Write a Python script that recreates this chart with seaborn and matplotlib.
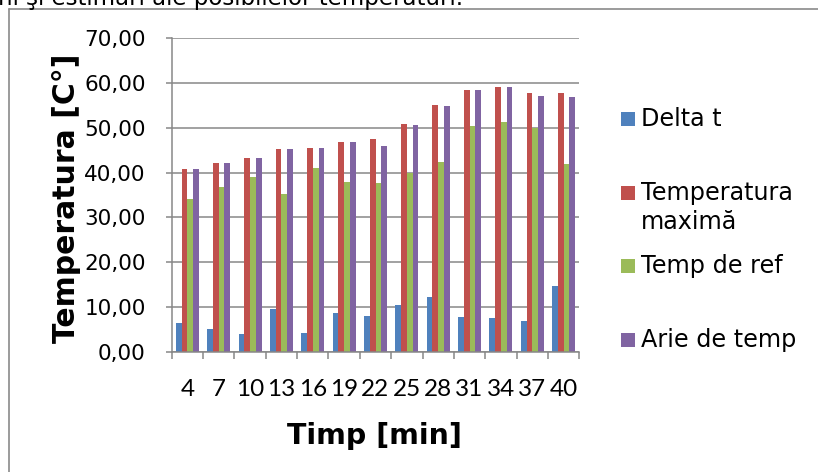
import matplotlib
matplotlib.use("Agg")
import matplotlib.pyplot as plt
from matplotlib.lines import Line2D
from matplotlib.patches import Rectangle
from matplotlib.ticker import FixedLocator, FuncFormatter
import numpy as np
import pandas as pd
import seaborn as sns

# Measurement times (minutes)
times = [4, 7, 10, 13, 16, 19, 22, 25, 28, 31, 34, 37, 40]

# Series values (°C)
delta_t = [6.45, 5.26, 4.15, 9.70, 4.20, 8.70, 8.07, 10.60, 12.20, 7.85, 7.70, 6.90, 14.75]
temp_max = [40.7, 42.1, 43.2, 45.2, 45.5, 46.7, 47.4, 50.7, 55.0, 58.3, 59.0, 57.7, 57.7]
temp_ref = [34.1, 36.8, 38.9, 35.3, 41.0, 37.9, 37.6, 40.0, 42.4, 50.3, 51.2, 50.0, 41.8]
arie_temp = [40.7, 42.1, 43.2, 45.2, 45.5, 46.7, 45.8, 50.6, 54.7, 58.3, 59.0, 57.0, 56.7]

series_names = ["Delta t", "Temperatura maximă", "Temp de ref", "Arie de temp"]
series_values = [delta_t, temp_max, temp_ref, arie_temp]
colors = ["#4F81BD", "#C0504D", "#9BBB59", "#8064A2"]

y_ticks = [0, 10, 20, 30, 40, 50, 60, 70]

df = pd.concat(
    [pd.DataFrame({"Timp": [str(t) for t in times], "Valoare": vals, "Serie": name})
     for name, vals in zip(series_names, series_values)],
    ignore_index=True,
)

sns.set_theme(style="white")
plt.rcParams["font.family"] = ["DejaVu Sans"]

W, H = 818, 472
fig = plt.figure(figsize=(W / 100, H / 100), dpi=100)
fig.patch.set_facecolor("white")


def fx(px):
    return px / W


def fy(py):
    return 1 - py / H


ax = fig.add_axes([fx(171.7), fy(352.3), fx(579.3) - fx(171.7), fy(37.7) - fy(352.3)])

grid_color = "#878787"

sns.barplot(
    data=df, x="Timp", y="Valoare", hue="Serie",
    order=[str(t) for t in times], hue_order=series_names,
    palette=colors, width=0.73, linewidth=0, saturation=1,
    legend=False, ax=ax, zorder=3,
)

ax.set_xlim(-0.5, len(times) - 0.5)
ax.set_ylim(0, 70)

# horizontal gridlines
ax.yaxis.set_major_locator(FixedLocator(y_ticks))
ax.yaxis.set_major_formatter(FuncFormatter(lambda v, p: f"{v:.2f}".replace(".", ",")))
ax.grid(axis="y", color=grid_color, linewidth=1.1, zorder=0)
ax.grid(axis="x", visible=False)

for side in ["top", "right"]:
    ax.spines[side].set_visible(False)
for side in ["left", "bottom"]:
    ax.spines[side].set_color(grid_color)
    ax.spines[side].set_linewidth(1.1)
    ax.spines[side].set_zorder(4)

ax.tick_params(axis="y", which="major", length=4.3, width=1.1, color=grid_color,
               direction="out", pad=14.4, labelsize=15.5, labelcolor="black", left=True)

# category boundaries as tick marks, labels centred on each category
ax.set_xticks(np.arange(len(times)))
ax.set_xticklabels([str(t) for t in times], fontfamily="Lato", fontsize=17.5)
ax.set_xticks(np.arange(-0.5, len(times), 1.0), minor=True)
ax.tick_params(axis="x", which="major", length=0, pad=19.5, labelcolor="black")
ax.tick_params(axis="x", which="minor", length=5, width=1.1, color=grid_color,
               direction="out", bottom=True)

ax.set_xlabel("Timp [min]", fontsize=20.5, fontweight="bold", color="black")
ax.xaxis.set_label_coords(0.497, -0.222)
ax.set_ylabel("Temperatura [C°]", fontsize=21.5, fontweight="bold", color="black")
ax.yaxis.set_label_coords(-0.222, 0.49)

# legend entries on the right: swatch centre rows and label lines
legend_rows = [119, 193, 266, 340]
legend_lines = [["Delta t"], ["Temperatura", "maximă"], ["Temp de ref"], ["Arie de temp"]]
for col, yc, lines in zip(colors, legend_rows, legend_lines):
    fig.add_artist(Rectangle((fx(621), fy(yc + 7)), fx(14), fy(yc - 7) - fy(yc + 7),
                             transform=fig.transFigure, facecolor=col, edgecolor="none"))
    for i, line in enumerate(lines):
        fig.text(fx(641), fy(yc + 29 * i), line, fontsize=17.2, va="center",
                 ha="left", color="black")

# chart frame and the surrounding document line
fig.add_artist(Line2D([fx(9), fx(9)], [fy(9), 0], transform=fig.transFigure,
                      color="#8a8a8a", linewidth=1.2))
fig.add_artist(Line2D([fx(9), 1], [fy(9), fy(9)], transform=fig.transFigure,
                      color="#8a8a8a", linewidth=1.2))
fig.text(fx(-2), fy(5.5), "ni şi estimări ale posibilelor temperaturi.", fontsize=16.5,
         va="baseline", ha="left", color="black")

fig.savefig("out.png", dpi=100, facecolor="white")
